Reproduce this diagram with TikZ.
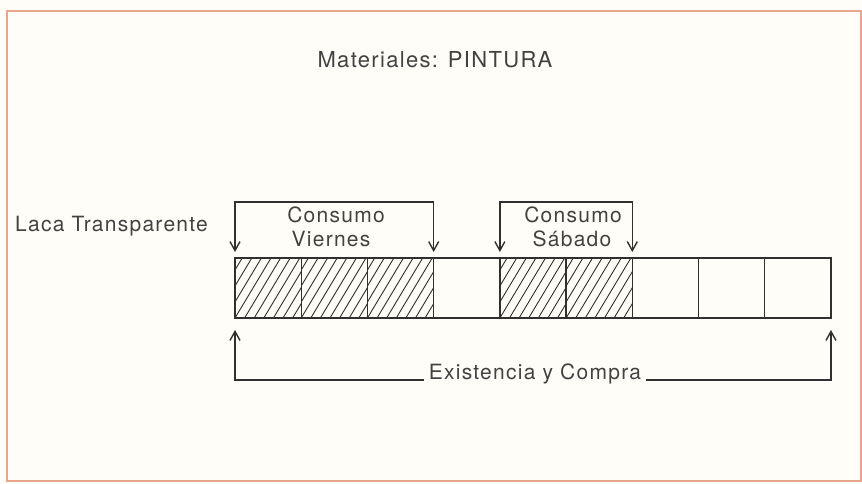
\documentclass[tikz,border=0pt]{standalone}
\usepackage{fontspec}
\usetikzlibrary{arrows.meta,calc}
\newfontfamily\labfont{TeX Gyre Heros}[LetterSpace=6]
\definecolor{bgc}{HTML}{FFFDF7}
\definecolor{framec}{HTML}{E9A68C}
\definecolor{linec}{HTML}{303030}
\definecolor{textc}{HTML}{424242}
\tikzset{
  x=1pt, y=1pt,
  cell/.style={draw=linec, line width=1.4pt, minimum width=66.22pt, minimum height=60pt, inner sep=0pt, outer sep=0pt},
  lab/.style={font=\labfont\fontsize{21}{24}\selectfont, text=textc, inner sep=0pt, anchor=base},
  conn/.style={draw=linec, line width=1.4pt},
  barbs/.style={conn, {Straight Barb[length=9pt,width=10pt,line width=1.4pt]}-{Straight Barb[length=9pt,width=10pt,line width=1.4pt]}},
  hatchline/.style={draw=linec, line width=0.9pt}
}
\begin{document}
\begin{tikzpicture}
\useasboundingbox (0,0) rectangle (862,484);
\fill[bgc] (0,0) rectangle (862,484);
\draw[framec, line width=2pt] (7,3) rectangle (861,473);

% title
\node[lab, font=\labfont\fontsize{22}{25}\selectfont] (title) at (435,416) {Materiales: PINTURA};
\node[lab, anchor=base west] (laca) at (15,252) {Laca Transparente};

% cells
\foreach \i in {1,...,9}{
  \node[cell] (c\i) at ({235+66.22*(\i-1)+33.11},196) {};
}
% hatching
\foreach \i in {1,2,3,5,6}{
  \begin{scope}
    \clip (c\i.south west) rectangle (c\i.north east);
    \foreach \k in {-4,...,7}{
      \draw[hatchline] ($(c\i.south west)+(\k*9.6,0)$) -- ++(36,60);
    }
  \end{scope}
}
\foreach \i in {1,...,9}{
  \draw[linec, line width=1.4pt] (c\i.south west) rectangle (c\i.north east);
}

% Consumo Viernes
\coordinate (vL) at ($(c1.north west)+(0,6)$);
\coordinate (vR) at ($(c3.north east)+(0,6)$);
\coordinate (vT) at ($(vL)+(0,50)$);
\draw[barbs] (vL) |- (vT) -| (vR);
\node[lab] (cv1) at (336,261) {Consumo};
\node[lab] (cv2) at (331,237) {Viernes};

% Consumo Sabado
\coordinate (sL) at ($(c5.north west)+(0,6)$);
\coordinate (sR) at ($(c6.north east)+(0,6)$);
\coordinate (sT) at ($(sL)+(0,50)$);
\draw[barbs] (sL) |- (sT) -| (sR);
\node[lab] (cs1) at (573,261) {Consumo};
\node[lab] (cs2) at (572,237) {Sábado};

% Existencia y Compra
\coordinate (eL) at ($(c1.south west)+(0,-12)$);
\coordinate (eR) at ($(c9.south east)+(0,-12)$);
\coordinate (eB) at ($(eL)+(0,-50)$);
\draw[barbs] (eL) |- (eB) -| (eR);
\node[lab, fill=bgc, inner xsep=5pt, inner ysep=2pt] (exist) at (535,104) {Existencia y Compra};
\end{tikzpicture}
\end{document}
